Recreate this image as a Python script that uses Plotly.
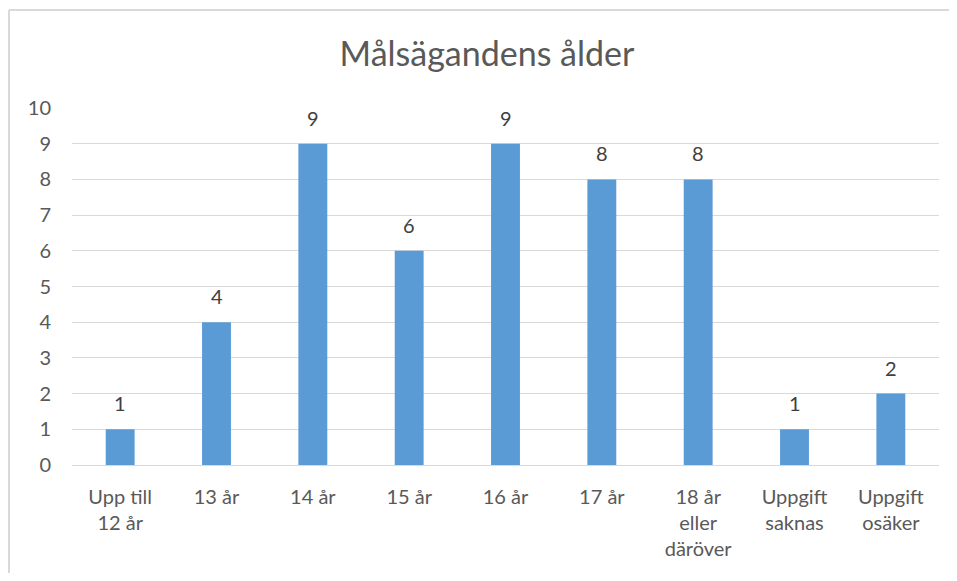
import plotly.graph_objects as go

# data
categories = [
    "Upp till<br>12 år",
    "13 år",
    "14 år",
    "15 år",
    "16 år",
    "17 år",
    "18 år<br>eller<br>däröver",
    "Uppgift<br>saknas",
    "Uppgift<br>osäker",
]
counts = [1, 4, 9, 6, 9, 8, 8, 1, 2]
y_ticks = list(range(0, 11))

FONT = "Lato, Open Sans, sans-serif"
# page body adds 8px on each side, so keep the figure inside the window
W, H = 957 - 16, 581 - 16
L, R, T, B = 64, 10, 100, 108
pw, ph = W - L - R, H - T - B

fig = go.Figure()
fig.add_trace(
    go.Bar(
        x=categories,
        y=counts,
        marker={"color": "#5B9BD5", "line": {"width": 0}},
        showlegend=False,
        hoverinfo="x+y",
    )
)

# value labels above the bars
for cat, val in zip(categories, counts):
    fig.add_annotation(
        x=cat,
        y=val,
        text=str(val),
        showarrow=False,
        yanchor="middle",
        yshift=26,
        font={"family": FONT, "size": 20, "color": "#404040"},
    )

# chart frame: only left and top edges are visible in the reference
x_left = (1 - L) / pw
y_top = (T + ph - 2) / ph
frame = {"color": "#D9D9D9", "width": 2}

fig.update_layout(
    width=W,
    height=H,
    margin={"l": L, "r": R, "t": T, "b": B},
    paper_bgcolor="white",
    plot_bgcolor="white",
    bargap=0.7,
    title={
        "text": "Målsägandens ålder",
        "x": (487 - 8) / W,
        "xanchor": "center",
        "y": 1 - 46 / H,
        "yanchor": "middle",
        "font": {"family": FONT, "size": 34, "color": "#595959"},
    },
    font={"family": FONT, "size": 20, "color": "#595959"},
    xaxis={
        "showgrid": False,
        "showline": False,
        "ticks": "",
        "ticklabelstandoff": 18,
        "tickfont": {"size": 20, "color": "#595959"},
    },
    yaxis={
        "range": [0, 10],
        "tickvals": y_ticks,
        "showgrid": True,
        "gridcolor": "#D9D9D9",
        "gridwidth": 1,
        "zeroline": True,
        "zerolinecolor": "#D9D9D9",
        "zerolinewidth": 1,
        "showline": False,
        "ticks": "",
        "ticklabelstandoff": 20,
        "tickfont": {"size": 20, "color": "#595959"},
    },
    shapes=[
        {
            "type": "line", "xref": "paper", "yref": "paper",
            "x0": x_left, "x1": x_left, "y0": -(B + 20) / ph, "y1": y_top,
            "line": frame, "layer": "below",
        },
        {
            "type": "line", "xref": "paper", "yref": "paper",
            "x0": x_left, "x1": (W + 20 - L) / pw, "y0": y_top, "y1": y_top,
            "line": frame, "layer": "below",
        },
    ],
)

fig.write_html("out.html")
